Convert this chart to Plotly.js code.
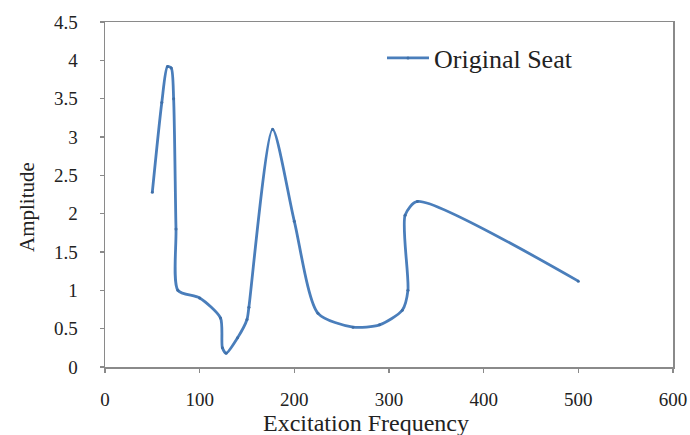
<!DOCTYPE html>
<html>
<head>
<meta charset="utf-8">
<script src="https://cdn.plot.ly/plotly-3.0.1.min.js"></script>
<style>html,body{margin:0;padding:0;background:#fff;}#chart{width:690px;height:435px;}</style>
</head>
<body>
<div id="chart"></div>
<script>
const seriesName = "Original Seat";
const freq = [50, 60, 66, 70, 72.5, 75, 77, 100, 122, 124, 128, 140, 150, 152, 177, 200, 225, 262, 290, 314, 320, 317, 330, 500];
const amplitude = [2.28, 3.45, 3.92, 3.9, 3.5, 1.8, 1.0, 0.9, 0.64, 0.25, 0.18, 0.38, 0.62, 0.78, 3.1, 1.9, 0.7, 0.52, 0.55, 0.74, 1.0, 1.98, 2.16, 1.12];
const xTitle = "Excitation Frequency";
const yTitle = "Amplitude";

const serif = "Liberation Serif, Times New Roman, Times, serif";
const blue = "#4a7ebb";

const trace = {
  x: freq, y: amplitude, name: seriesName, type: "scatter", mode: "lines+markers",
  line: {color: blue, width: 2.8, shape: "spline", smoothing: 0.7},
  marker: {color: "#3f6fa8", size: 3},
  showlegend: true
};

const axisCommon = {
  showgrid: false, zeroline: false, showline: true, mirror: true,
  linecolor: "#8a8a8a", linewidth: 1.5,
  ticks: "outside", ticklen: 4, tickcolor: "#8a8a8a", tickwidth: 1.5,
  tickfont: {family: serif, size: 19, color: "#222"}
};

const layout = {
  width: 690, height: 435,
  margin: {l: 105, r: 17, t: 22, b: 68},
  paper_bgcolor: "#fff", plot_bgcolor: "#fff",
  font: {family: serif},
  xaxis: Object.assign({}, axisCommon, {range: [0, 600], dtick: 100, tick0: 0, ticklabelstandoff: 11}),
  yaxis: Object.assign({}, axisCommon, {range: [0, 4.5], dtick: 0.5, tick0: 0, ticklabelstandoff: 18}),
  legend: {x: (382 - 105) / 568, y: (367 - 58) / 345, xanchor: "left", yanchor: "middle", bgcolor: "rgba(0,0,0,0)",
           itemwidth: 42, font: {family: serif, size: 26, color: "#222"}},
  annotations: [
    {text: xTitle, xref: "paper", yref: "paper", x: (366 - 105) / 568, y: 0, yshift: -41,
     xanchor: "center", yanchor: "top", showarrow: false, font: {family: serif, size: 24, color: "#222"}},
    {text: yTitle, xref: "paper", yref: "paper", x: 0, xshift: -78, y: (367 - 207) / 345,
     xanchor: "center", yanchor: "middle", textangle: -90, showarrow: false,
     font: {family: serif, size: 21, color: "#222"}}
  ]
};

Plotly.newPlot("chart", [trace], layout, {staticPlot: true, displayModeBar: false});
</script>
</body>
</html>
